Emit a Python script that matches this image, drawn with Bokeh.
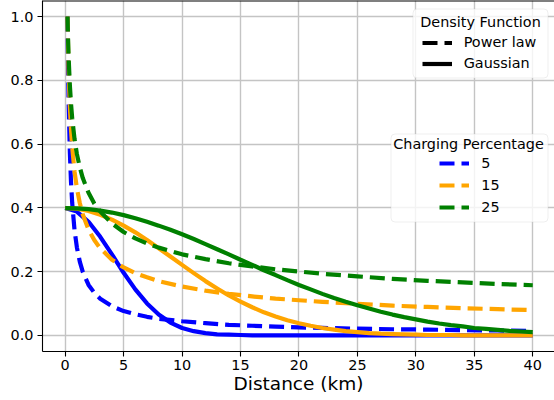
from bokeh.plotting import figure
from bokeh.models import (Range1d, PrintfTickFormatter, Legend, LegendItem,
                          Span, BoxAnnotation, Label)
from bokeh.embed import file_html
from bokeh.resources import INLINE

# ---------------- data ----------------
pl_dist = [0.2, 0.25, 0.3, 0.4, 0.5, 0.6, 0.8, 1, 1.25, 1.5, 2, 2.5, 3, 4, 5, 6, 7, 8,
           10, 12, 14, 16, 18, 20, 22, 25, 28, 31, 34, 37, 40]
pl_5 = [1.0, 0.837, 0.723, 0.574, 0.480, 0.415, 0.330, 0.276, 0.231, 0.200, 0.158, 0.133,
        0.115, 0.091, 0.076, 0.066, 0.058, 0.052, 0.044, 0.038, 0.033, 0.030, 0.027, 0.025,
        0.023, 0.021, 0.019, 0.018, 0.016, 0.015, 0.014]
pl_15 = [1.0, 0.898, 0.823, 0.717, 0.644, 0.590, 0.514, 0.462, 0.415, 0.380, 0.331, 0.298,
         0.273, 0.237, 0.213, 0.195, 0.182, 0.170, 0.153, 0.140, 0.130, 0.122, 0.115, 0.110,
         0.105, 0.099, 0.093, 0.089, 0.085, 0.082, 0.079]
pl_25 = [1.0, 0.925, 0.868, 0.785, 0.726, 0.681, 0.616, 0.569, 0.527, 0.494, 0.447, 0.413,
         0.388, 0.351, 0.324, 0.304, 0.288, 0.275, 0.254, 0.239, 0.226, 0.216, 0.207, 0.200,
         0.193, 0.185, 0.177, 0.171, 0.166, 0.161, 0.157]

g_dist = [0, 1, 2, 3, 4, 5, 6, 7, 8, 9, 10, 11, 12, 13, 14, 15, 16, 17, 18, 19, 20,
          21, 22, 23, 24, 25, 26, 27, 28, 29, 30, 31, 32, 33, 34, 35, 36, 37, 38, 39, 40]
g_5 = [0.399, 0.388, 0.356, 0.309, 0.254, 0.196, 0.144, 0.100, 0.065, 0.040, 0.023, 0.013,
       0.007, 0.003, 0.002, 0.001, 0.0, 0.0, 0.0, 0.0, 0.0, 0.0, 0.0, 0.0, 0.0, 0.0, 0.0,
       0.0, 0.0, 0.0, 0.0, 0.0, 0.0, 0.0, 0.0, 0.0, 0.0, 0.0, 0.0, 0.0, 0.0]
g_15 = [0.399, 0.397, 0.390, 0.378, 0.363, 0.344, 0.323, 0.299, 0.273, 0.247, 0.221, 0.195,
        0.170, 0.147, 0.125, 0.106, 0.088, 0.072, 0.059, 0.047, 0.038, 0.030, 0.023, 0.018,
        0.013, 0.010, 0.007, 0.005, 0.004, 0.003, 0.002, 0.001, 0.001, 0.001, 0.0, 0.0, 0.0,
        0.0, 0.0, 0.0, 0.0]
g_25 = [0.399, 0.398, 0.396, 0.391, 0.385, 0.377, 0.367, 0.356, 0.344, 0.331, 0.317, 0.302,
        0.286, 0.270, 0.254, 0.237, 0.221, 0.204, 0.189, 0.173, 0.158, 0.144, 0.130, 0.117,
        0.105, 0.094, 0.084, 0.074, 0.065, 0.057, 0.050, 0.043, 0.037, 0.032, 0.028, 0.023,
        0.020, 0.017, 0.014, 0.012, 0.010]

percent_labels = ["5", "15", "25"]
series_colors = ["blue", "orange", "green"]
density_labels = ["Power law", "Gaussian"]
x_ticks = [0, 5, 10, 15, 20, 25, 30, 35, 40]
y_ticks = [0.0, 0.2, 0.4, 0.6, 0.8, 1.0]

FONT = "DejaVu Sans"
LW = 4.2
DASH = "15 7"

p = figure(frame_width=512, frame_height=351,
           x_range=Range1d(-1.94, 41.86), y_range=Range1d(-0.0508, 1.0502),
           output_backend="svg", toolbar_location=None,
           min_border_left=42, min_border_right=0, min_border_top=0, min_border_bottom=0)
p.outline_line_color = None
p.background_fill_color = "white"
p.border_fill_color = "white"

# grid
for g in (p.xgrid[0], p.ygrid[0]):
    g.grid_line_color = "#c4c4c4"
    g.grid_line_width = 1.4

# axes
p.xaxis.ticker = x_ticks
p.yaxis.ticker = y_ticks
p.yaxis.formatter = PrintfTickFormatter(format="%.1f")
for ax in (p.xaxis[0], p.yaxis[0]):
    ax.major_tick_in = 0
    ax.major_tick_out = 5
    ax.minor_tick_line_color = None
    ax.axis_line_color = "black"
    ax.axis_line_width = 1.1
    ax.major_tick_line_color = "black"
    ax.major_tick_line_width = 1.1
    ax.major_label_text_font = FONT
    ax.major_label_text_font_size = "14.4px"
    ax.major_label_text_color = "black"
p.xaxis.major_label_standoff = 3
p.yaxis.major_label_standoff = 4
p.xaxis.axis_label = "Distance (km)"
p.xaxis.axis_label_text_font = FONT
p.xaxis.axis_label_text_font_size = "18.5px"
p.xaxis.axis_label_text_font_style = "normal"
p.xaxis.axis_label_text_color = "black"
p.xaxis.axis_label_standoff = 0

# top spine
p.add_layout(Span(location=1.0502, dimension="width", line_color="black", line_width=2))

# curves
pl_series = [pl_5, pl_15, pl_25]
g_series = [g_5, g_15, g_25]
pl_renderers = []
for col, pl, gs in zip(series_colors, pl_series, g_series):
    r1 = p.line(pl_dist, pl, line_color=col, line_width=LW, line_dash=DASH, line_join="round")
    p.line(g_dist, gs, line_color=col, line_width=LW, line_join="round")
    pl_renderers.append(r1)

# hidden black copies used only as legend keys for the density function
d_pl = p.line(pl_dist, pl_5, line_color="black", line_width=LW, line_dash=DASH, visible=False)
d_g = p.line(g_dist, g_5, line_color="black", line_width=LW, visible=False)


def legend_box(left, right, bottom, top, title, title_x, title_y):
    box = BoxAnnotation(left=left, right=right, bottom=bottom, top=top,
                        left_units="screen", right_units="screen",
                        top_units="screen", bottom_units="screen",
                        fill_color="white", fill_alpha=0.8,
                        line_color="#c6c6c6", line_width=1, border_radius=4)
    p.add_layout(box)
    lab = Label(x=title_x, y=title_y, x_units="screen", y_units="screen", text=title,
                text_font=FONT, text_font_size="14.4px", text_color="black",
                text_align="center", text_baseline="middle")
    p.add_layout(lab)


def items_legend(items, loc, glyph_w, standoff, item_h):
    leg = Legend(items=items, location=loc, padding=0, margin=0, spacing=0,
                 background_fill_alpha=0, border_line_color=None,
                 glyph_width=glyph_w, glyph_height=item_h, label_height=item_h,
                 label_standoff=standoff, label_text_font=FONT,
                 label_text_font_size="14.4px", label_text_color="black")
    p.add_layout(leg)


# legend 1: Density Function
legend_box(370.5, 505.5, 273.5, 342.5, "Density Function", 438, 330)
items_legend([LegendItem(label=density_labels[0], renderers=[d_pl]),
              LegendItem(label=density_labels[1], renderers=[d_g])],
             (379.7, 277.2), 30, 12, 21)

# legend 2: Charging Percentage
legend_box(348.5, 505.5, 129.5, 217.5, "Charging Percentage", 426, 207.7)
items_legend([LegendItem(label=lab, renderers=[r]) for lab, r in zip(percent_labels, pl_renderers)],
             (397.3, 132.8), 30, 12, 22)

open("out.html", "w").write(file_html(p, INLINE))
